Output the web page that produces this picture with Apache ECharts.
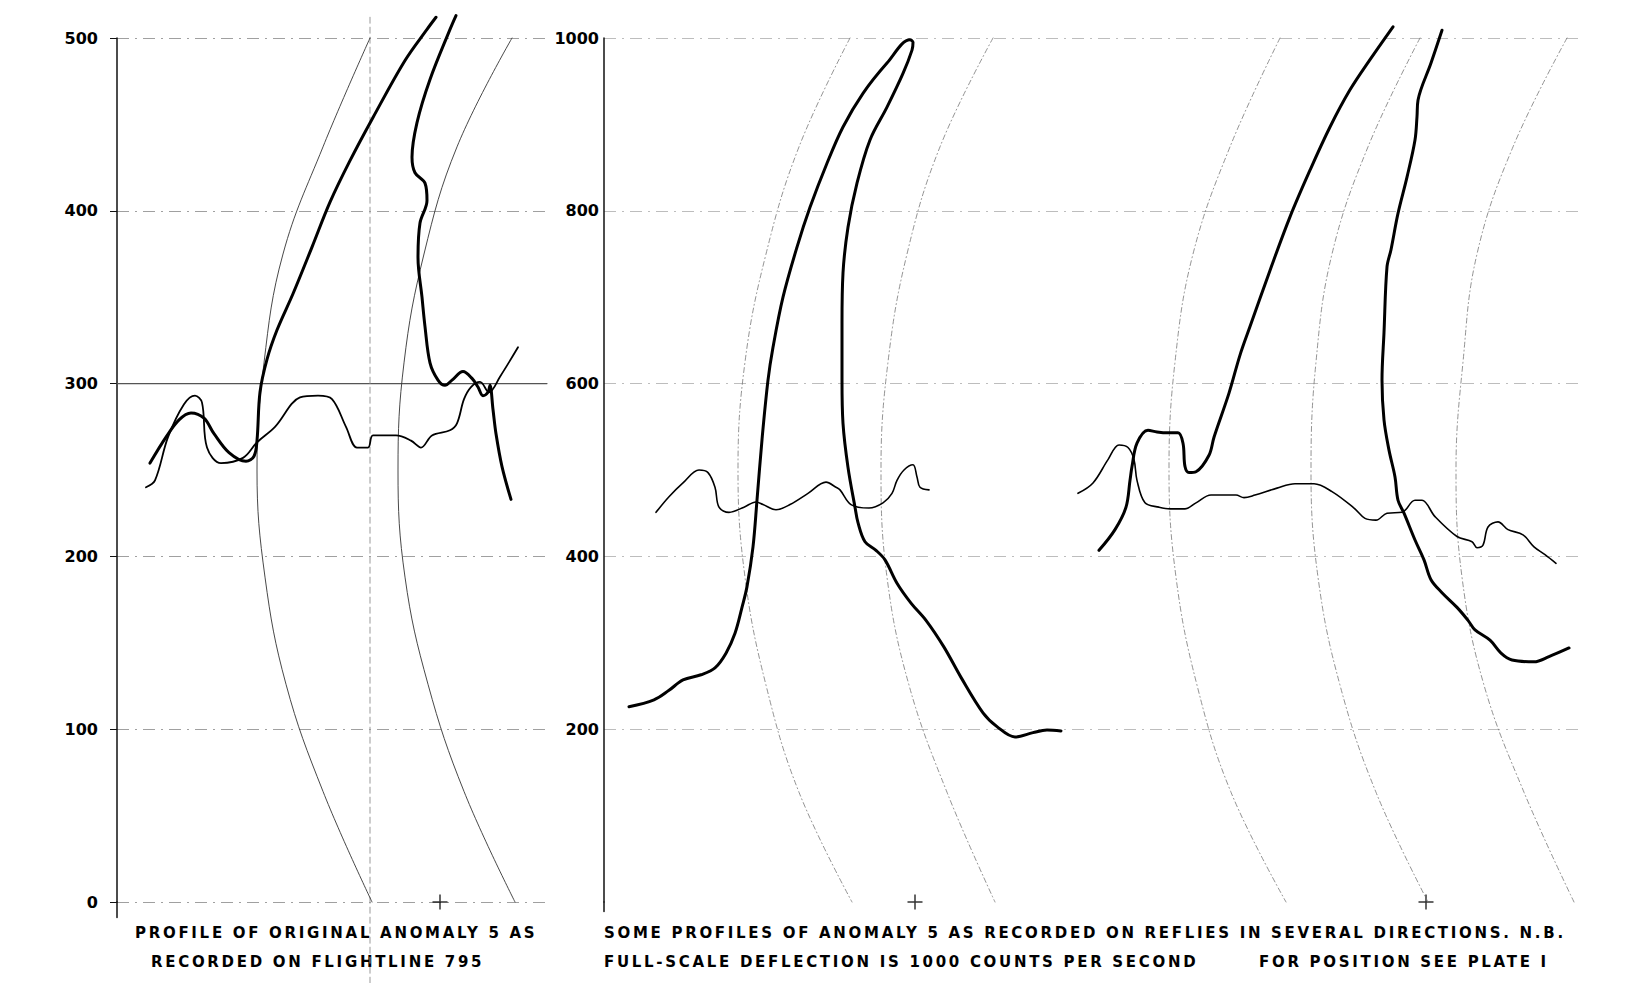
<!DOCTYPE html>
<html>
<head>
<meta charset="utf-8">
<title>Anomaly 5 profiles</title>
<script src="https://cdn.jsdelivr.net/npm/echarts@6.0.0/dist/echarts.min.js"></script>
<style>
  html, body { margin: 0; padding: 0; background: #fff; }
  #main { width: 1636px; height: 983px; }
  /* the stencil lettering of the captions is widely spaced */
  #main text[style*="15px"] { letter-spacing: 2.7px; }
</style>
</head>
<body>
<div id="main"></div>
<script>
// x = distance along the line (drawing units), y = counts per second

// -- flightline 795 (left panel, 0..500) --
var leftTicks = [0, 100, 200, 300, 400, 500];
var leftRiseA = [[33,254],[49,269],[62,279],[74,283],[87,280],[97,271],[112,260],[129,255],[137,258],[140,267],[143,295],[150,314],[160,331],[176,352],[195,379],[213,405],[233,429],[256,454],[288,487],[310,505],[319,512]];
var leftRiseB = [[339,513],[333,505],[313,476],[300,451],[295,431],[298,422],[308,416],[310,406],[303,393],[301,373],[305,350],[308,333],[313,312],[321,302],[328,299],[335,302],[346,307],[355,303],[361,298],[366,293],[371,295],[373,299],[376,285],[379,271],[385,252],[394,233]];
var leftFlat = [[29,240],[38,244],[51,269],[67,288],[78,293],[85,289],[90,263],[104,254],[126,257],[140,266],[158,275],[183,292],[201,293],[215,291],[229,275],[240,263],[251,263],[256,270],[279,270],[294,267],[304,263],[315,270],[333,273],[340,277],[347,291],[354,298],[363,301],[372,295],[383,304],[401,321]];
var leftArcInner = [[253,500],[206,437],[166,375],[147,312],[140,250],[148,188],[169,126],[206,64],[255,0]];
var leftArcOuter = [[395,500],[340,437],[307,375],[287,312],[281,250],[288,188],[311,126],[347,64],[398,0]];
var leftGuide = [[253,-47],[253,512]];
var leftBase = [[0,300],[430,300]];
var leftCross = [[323,0]];
var leftTail = [[0,0],[0,-9]];

// -- reflies (middle + right panels, 0..1000) --
var midTicks = [200, 400, 600, 800, 1000];
var midLoop = [[25,226],[50,234],[65,245],[79,257],[97,263],[111,271],[122,288],[131,311],[138,341],[143,365],[149,411],[153,465],[158,535],[164,604],[169,642],[179,700],[193,758],[206,804],[223,855],[239,897],[259,936],[283,971],[306,998],[309,995],[308,986],[299,959],[283,920],[266,882],[253,832],[244,781],[239,728],[238,670],[238,604],[239,554],[244,503],[251,457],[254,439],[261,417],[272,407],[281,396],[293,369],[307,346],[322,326],[340,295],[357,260],[379,219],[393,203],[411,191],[429,196],[443,199],[457,198]];
var midFlat = [[52,451],[65,469],[79,485],[95,500],[104,497],[111,480],[115,457],[125,451],[140,457],[152,463],[159,460],[172,454],[186,460],[204,473],[222,486],[232,480],[236,477],[247,460],[265,456],[279,462],[288,473],[293,488],[300,500],[309,506],[313,492],[316,480],[325,477]];
var midArcInner = [[246,1000],[195,874],[162,750],[141,625],[134,500],[141,376],[162,251],[195,127],[248,0]];
var midArcOuter = [[389,1000],[336,874],[303,750],[284,625],[277,500],[283,376],[305,251],[343,127],[391,0]];
var rightRiseA = [[495,407],[511,431],[522,457],[526,488],[528,504],[533,531],[544,546],[553,544],[564,543],[574,543],[579,531],[581,504],[585,497],[592,498],[605,517],[610,538],[625,589],[636,633],[646,666],[666,731],[686,793],[706,847],[726,897],[746,940],[766,975],[789,1013]];
var rightRiseB = [[838,1009],[827,971],[814,928],[813,909],[811,882],[803,839],[794,797],[787,755],[783,735],[780,659],[778,604],[780,558],[785,523],[791,492],[794,465],[800,450],[811,419],[820,396],[827,373],[838,358],[853,341],[864,326],[871,315],[886,303],[897,288],[908,280],[930,278],[945,284],[965,294]];
var rightFlat = [[474,473],[489,485],[504,512],[515,529],[524,526],[530,512],[533,488],[541,462],[555,457],[566,455],[581,455],[592,462],[607,471],[621,471],[632,471],[640,468],[651,471],[673,479],[691,484],[710,484],[728,475],[750,456],[761,444],[772,442],[783,450],[798,451],[811,465],[818,465],[831,446],[853,423],[868,417],[873,410],[879,413],[884,434],[894,440],[904,431],[919,425],[930,411],[941,402],[952,392]];
var rightArcA = [[676,1000],[626,874],[589,750],[571,625],[565,500],[572,376],[593,251],[627,127],[682,0]];
var rightArcB = [[816,1000],[764,874],[728,750],[712,625],[707,500],[714,376],[736,251],[772,127],[824,0]];
var rightArcC = [[963,1000],[909,874],[873,750],[859,625],[852,500],[858,376],[880,251],[920,127],[970,0]];
var midCross = [[311,0],[822,0]];
var midTail = [[0,0],[0,-11]];

var captionLeft = ['PROFILE OF ORIGINAL ANOMALY 5 AS', 'RECORDED ON FLIGHTLINE 795'];
var captionRight = ['SOME PROFILES OF ANOMALY 5 AS RECORDED ON REFLIES IN SEVERAL DIRECTIONS. N.B.',
  'FULL-SCALE DEFLECTION IS 1000 COUNTS PER SECOND', 'FOR POSITION SEE PLATE I'];

var chart = echarts.init(document.getElementById('main'), null, {renderer: 'svg'});

function line(data, grid, width, color, dash, smooth) {
  return {
    type: 'line',
    xAxisIndex: grid,
    yAxisIndex: grid,
    data: data,
    symbol: 'none',
    smooth: smooth === undefined ? 0.35 : smooth,
    clip: false,
    silent: true,
    lineStyle: {width: width, color: color, type: dash || 'solid', cap: 'round', join: 'round'}
  };
}

function cross(data, grid) {
  return {
    type: 'scatter',
    xAxisIndex: grid,
    yAxisIndex: grid,
    data: data,
    symbol: 'path://M9,0H11V9H20V11H11V20H9V11H0V9H9Z',
    symbolSize: 15,
    clip: false,
    silent: true,
    itemStyle: {color: '#000'}
  };
}

var labelFont = {color: '#000', fontSize: 16, fontWeight: 'bold', fontFamily: 'DejaVu Sans'};
var arcDash = [5, 3, 1, 3];

var option = {
  backgroundColor: '#fff',
  animation: false,
  grid: [
    {left: 117, top: 38, width: 430, height: 864},
    {left: 604, top: 38, width: 978, height: 864}
  ],
  xAxis: [
    {type: 'value', gridIndex: 0, min: 0, max: 430, show: false},
    {type: 'value', gridIndex: 1, min: 0, max: 978, show: false}
  ],
  yAxis: [
    {
      type: 'value', gridIndex: 0, min: leftTicks[0], max: leftTicks[leftTicks.length - 1], interval: 100,
      axisLine: {show: true, lineStyle: {color: '#111', width: 1.5}},
      axisTick: {show: true, length: 7, lineStyle: {color: '#111'}},
      axisLabel: Object.assign({margin: 19}, labelFont),
      splitLine: {show: true, lineStyle: {color: '#a0a0a0', width: 1, type: [12, 6, 2, 6]}}
    },
    {
      type: 'value', gridIndex: 1, min: 0, max: midTicks[midTicks.length - 1], interval: 200,
      axisLine: {show: true, lineStyle: {color: '#111', width: 1.5}},
      axisTick: {show: false},
      axisLabel: Object.assign({
        margin: 5,
        formatter: function (v) { return midTicks.indexOf(v) >= 0 ? String(v) : ''; }
      }, labelFont),
      splitLine: {show: true, showMinLine: false, lineStyle: {color: '#bdbdbd', width: 1, type: [12, 6, 2, 6]}}
    }
  ],
  graphic: [
    {type: 'text', x: 135, y: 933, style: {text: captionLeft[0], font: 'bold 15px DejaVu Sans', fill: '#000', textVerticalAlign: 'middle'}},
    {type: 'text', x: 151, y: 962, style: {text: captionLeft[1], font: 'bold 15px DejaVu Sans', fill: '#000', textVerticalAlign: 'middle'}},
    {type: 'text', x: 604, y: 933, style: {text: captionRight[0], font: 'bold 15px DejaVu Sans', fill: '#000', textVerticalAlign: 'middle'}},
    {type: 'text', x: 604, y: 962, style: {text: captionRight[1], font: 'bold 15px DejaVu Sans', fill: '#000', textVerticalAlign: 'middle'}},
    {type: 'text', x: 1259, y: 962, style: {text: captionRight[2], font: 'bold 15px DejaVu Sans', fill: '#000', textVerticalAlign: 'middle'}}
  ],
  series: [
    // guide marks, left
    line(leftBase, 0, 1.2, '#555', 'solid', false),
    line(leftGuide, 0, 1, '#999', [6, 4], false),
    line(leftTail, 0, 1.5, '#111', 'solid', false),
    line(leftArcInner, 0, 0.9, '#333', 'solid', 0.4),
    line(leftArcOuter, 0, 0.9, '#333', 'solid', 0.4),
    cross(leftCross, 0),
    // profiles, left
    line(leftFlat, 0, 1.8, '#000'),
    line(leftRiseA, 0, 3, '#000'),
    line(leftRiseB, 0, 3, '#000'),
    // guide marks, middle + right
    line(midTail, 1, 1.5, '#111', 'solid', false),
    line(midArcInner, 1, 0.8, '#777', arcDash, 0.4),
    line(midArcOuter, 1, 0.8, '#777', arcDash, 0.4),
    line(rightArcA, 1, 0.8, '#777', arcDash, 0.4),
    line(rightArcB, 1, 0.8, '#777', arcDash, 0.4),
    line(rightArcC, 1, 0.8, '#777', arcDash, 0.4),
    cross(midCross, 1),
    // profiles, middle + right
    line(midFlat, 1, 1.6, '#000'),
    line(midLoop, 1, 3, '#000'),
    line(rightFlat, 1, 1.6, '#000'),
    line(rightRiseA, 1, 3, '#000'),
    line(rightRiseB, 1, 3, '#000')
  ]
};

chart.setOption(option);
</script>
</body>
</html>
